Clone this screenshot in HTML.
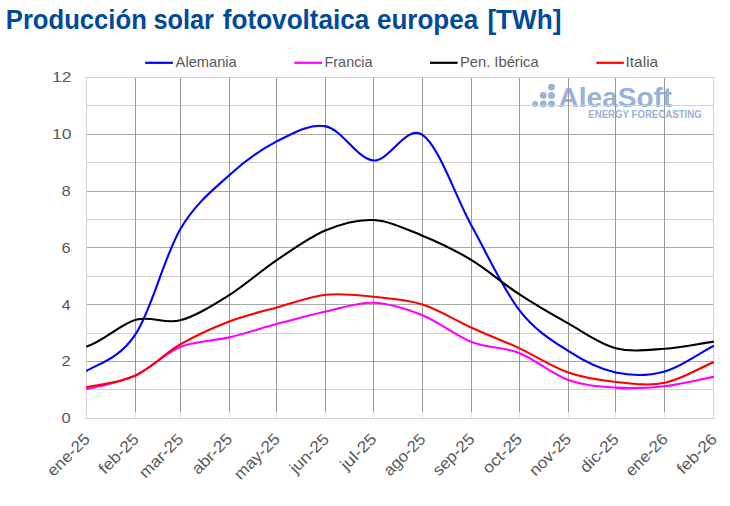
<!DOCTYPE html>
<html><head><meta charset="utf-8"><title>Producción solar fotovoltaica europea</title>
<style>html,body{margin:0;padding:0;background:#fff;}body{width:730px;height:506px;position:relative;overflow:hidden;font-family:"Liberation Sans",sans-serif;}</style></head>
<body>
<svg width="730" height="506" viewBox="0 0 730 506" style="position:absolute;left:0;top:0">
<rect width="730" height="506" fill="#fff"/>
<g fill="#98b2d8">
<circle cx="535.2" cy="103.9" r="3.0"/>
<circle cx="543.3" cy="103.9" r="3.4"/>
<circle cx="551.5" cy="103.9" r="3.4"/>
<circle cx="543.3" cy="95.4" r="3.4"/>
<circle cx="551.5" cy="95.4" r="3.4"/>
<circle cx="551.5" cy="87.1" r="3.4"/>
<text x="558.6" y="107.1" font-family="Liberation Sans, sans-serif" font-weight="bold" font-size="28.4" textLength="113.6" lengthAdjust="spacingAndGlyphs">AleaSoft</text>
<text x="588.3" y="117.8" font-family="Liberation Sans, sans-serif" font-weight="bold" font-size="10" textLength="113.4" lengthAdjust="spacingAndGlyphs">ENERGY FORECASTING</text>
</g>
<line x1="86.5" x2="713.5" y1="389.5" y2="389.5" stroke="#d2d2d2" stroke-width="1"/>
<line x1="86.5" x2="713.5" y1="333.5" y2="333.5" stroke="#d2d2d2" stroke-width="1"/>
<line x1="86.5" x2="713.5" y1="276.5" y2="276.5" stroke="#d2d2d2" stroke-width="1"/>
<line x1="86.5" x2="713.5" y1="219.5" y2="219.5" stroke="#d2d2d2" stroke-width="1"/>
<line x1="86.5" x2="713.5" y1="162.5" y2="162.5" stroke="#d2d2d2" stroke-width="1"/>
<line x1="86.5" x2="713.5" y1="105.5" y2="105.5" stroke="#d2d2d2" stroke-width="1"/>
<line x1="86.5" x2="713.5" y1="361.5" y2="361.5" stroke="#a9a9a9" stroke-width="1"/>
<line x1="86.5" x2="713.5" y1="304.5" y2="304.5" stroke="#a9a9a9" stroke-width="1"/>
<line x1="86.5" x2="713.5" y1="247.5" y2="247.5" stroke="#a9a9a9" stroke-width="1"/>
<line x1="86.5" x2="713.5" y1="191.5" y2="191.5" stroke="#a9a9a9" stroke-width="1"/>
<line x1="86.5" x2="713.5" y1="134.5" y2="134.5" stroke="#a9a9a9" stroke-width="1"/>
<line x1="135.50" x2="135.50" y1="77.5" y2="412" stroke="#9a9a9a" stroke-width="1"/>
<line x1="135.50" x2="135.50" y1="412" y2="418.5" stroke="#e6e6e6" stroke-width="1"/>
<line x1="180.50" x2="180.50" y1="77.5" y2="412" stroke="#9a9a9a" stroke-width="1"/>
<line x1="180.50" x2="180.50" y1="412" y2="418.5" stroke="#e6e6e6" stroke-width="1"/>
<line x1="229.50" x2="229.50" y1="77.5" y2="412" stroke="#9a9a9a" stroke-width="1"/>
<line x1="229.50" x2="229.50" y1="412" y2="418.5" stroke="#e6e6e6" stroke-width="1"/>
<line x1="276.50" x2="276.50" y1="77.5" y2="412" stroke="#9a9a9a" stroke-width="1"/>
<line x1="276.50" x2="276.50" y1="412" y2="418.5" stroke="#e6e6e6" stroke-width="1"/>
<line x1="325.50" x2="325.50" y1="77.5" y2="412" stroke="#9a9a9a" stroke-width="1"/>
<line x1="325.50" x2="325.50" y1="412" y2="418.5" stroke="#e6e6e6" stroke-width="1"/>
<line x1="373.50" x2="373.50" y1="77.5" y2="412" stroke="#9a9a9a" stroke-width="1"/>
<line x1="373.50" x2="373.50" y1="412" y2="418.5" stroke="#e6e6e6" stroke-width="1"/>
<line x1="422.50" x2="422.50" y1="77.5" y2="412" stroke="#9a9a9a" stroke-width="1"/>
<line x1="422.50" x2="422.50" y1="412" y2="418.5" stroke="#e6e6e6" stroke-width="1"/>
<line x1="471.50" x2="471.50" y1="77.5" y2="412" stroke="#9a9a9a" stroke-width="1"/>
<line x1="471.50" x2="471.50" y1="412" y2="418.5" stroke="#e6e6e6" stroke-width="1"/>
<line x1="519.50" x2="519.50" y1="77.5" y2="412" stroke="#9a9a9a" stroke-width="1"/>
<line x1="519.50" x2="519.50" y1="412" y2="418.5" stroke="#e6e6e6" stroke-width="1"/>
<line x1="568.50" x2="568.50" y1="77.5" y2="412" stroke="#9a9a9a" stroke-width="1"/>
<line x1="568.50" x2="568.50" y1="412" y2="418.5" stroke="#e6e6e6" stroke-width="1"/>
<line x1="615.50" x2="615.50" y1="77.5" y2="412" stroke="#9a9a9a" stroke-width="1"/>
<line x1="615.50" x2="615.50" y1="412" y2="418.5" stroke="#e6e6e6" stroke-width="1"/>
<line x1="664.50" x2="664.50" y1="77.5" y2="412" stroke="#9a9a9a" stroke-width="1"/>
<line x1="664.50" x2="664.50" y1="412" y2="418.5" stroke="#e6e6e6" stroke-width="1"/>
<rect x="86.5" y="77.5" width="627.0" height="341.0" fill="none" stroke="#d3d3d3" stroke-width="1"/>
<clipPath id="cp"><rect x="86.2" y="77.5" width="627.8" height="341.0"/></clipPath>
<path d="M37.60,387.06 C53.97,381.62 70.33,379.61 86.70,370.73 C103.07,361.86 120.22,357.36 135.80,333.81 C151.37,310.26 164.57,255.88 180.14,229.44 C195.72,203.00 213.14,189.87 229.24,175.20 C245.34,160.52 260.65,149.54 276.76,141.40 C292.86,133.26 309.75,123.18 325.85,126.35 C341.96,129.52 357.27,159.01 373.37,160.43 C389.47,161.85 406.10,123.98 422.47,134.87 C438.83,145.75 455.46,196.59 471.56,225.75 C487.67,254.91 502.98,288.94 519.08,309.81 C535.18,330.69 552.07,340.53 568.18,350.99 C584.28,361.45 599.59,369.17 615.69,372.58 C631.79,375.98 648.42,375.94 664.79,371.44 C681.15,366.94 697.52,354.21 713.88,345.60" clip-path="url(#cp)" fill="none" stroke="#0000ff" stroke-width="2.1" stroke-linejoin="round" stroke-linecap="butt"/>
<path d="M37.60,394.73 C53.97,392.83 70.33,392.31 86.70,389.05 C103.07,385.78 120.22,382.14 135.80,375.13 C151.37,368.13 164.57,353.31 180.14,347.02 C195.72,340.72 213.14,341.19 229.24,337.36 C245.34,333.53 260.65,328.32 276.76,324.01 C292.86,319.70 309.75,315.07 325.85,311.52 C341.96,307.97 357.27,302.10 373.37,302.71 C389.47,303.33 406.10,308.68 422.47,315.21 C438.83,321.74 455.46,335.61 471.56,341.90 C487.67,348.20 502.98,346.64 519.08,352.98 C535.18,359.32 552.07,374.19 568.18,379.96 C584.28,385.73 599.59,386.59 615.69,387.63 C631.79,388.67 648.42,388.01 664.79,386.21 C681.15,384.41 697.52,379.96 713.88,376.84" clip-path="url(#cp)" fill="none" stroke="#ff00ff" stroke-width="2.1" stroke-linejoin="round" stroke-linecap="butt"/>
<path d="M37.60,348.72 C53.97,347.96 70.33,351.28 86.70,346.45 C103.07,341.62 120.22,324.11 135.80,319.75 C151.37,315.40 164.57,324.44 180.14,320.32 C195.72,316.20 213.14,305.08 229.24,295.04 C245.34,285.01 260.65,270.90 276.76,260.11 C292.86,249.32 309.75,236.97 325.85,230.29 C341.96,223.62 357.27,219.17 373.37,220.07 C389.47,220.97 406.10,229.01 422.47,235.69 C438.83,242.36 455.46,250.36 471.56,260.11 C487.67,269.86 502.98,283.64 519.08,294.19 C535.18,304.75 552.07,314.45 568.18,323.44 C584.28,332.44 599.59,343.94 615.69,348.15 C631.79,352.36 648.42,349.81 664.79,348.72 C681.15,347.63 697.52,343.99 713.88,341.62" clip-path="url(#cp)" fill="none" stroke="#000000" stroke-width="2.1" stroke-linejoin="round" stroke-linecap="butt"/>
<path d="M37.60,393.59 C53.97,391.41 70.33,390.09 86.70,387.06 C103.07,384.03 120.22,382.52 135.80,375.42 C151.37,368.32 164.57,353.45 180.14,344.46 C195.72,335.47 213.14,327.61 229.24,321.46 C245.34,315.30 260.65,311.99 276.76,307.54 C292.86,303.09 309.75,296.56 325.85,294.76 C341.96,292.96 357.27,295.14 373.37,296.75 C389.47,298.36 406.10,299.26 422.47,304.42 C438.83,309.58 455.46,320.41 471.56,327.70 C487.67,334.99 502.98,340.67 519.08,348.15 C535.18,355.63 552.07,366.94 568.18,372.58 C584.28,378.21 599.59,380.24 615.69,381.95 C631.79,383.65 648.42,386.11 664.79,382.80 C681.15,379.49 697.52,368.98 713.88,362.07" clip-path="url(#cp)" fill="none" stroke="#ff0000" stroke-width="2.1" stroke-linejoin="round" stroke-linecap="butt"/>
<text x="70.7" y="423.10" text-anchor="end" font-family="Liberation Sans, sans-serif" font-size="15.5" fill="#595959" textLength="9.2" lengthAdjust="spacingAndGlyphs">0</text>
<text x="70.7" y="366.30" text-anchor="end" font-family="Liberation Sans, sans-serif" font-size="15.5" fill="#595959" textLength="9.2" lengthAdjust="spacingAndGlyphs">2</text>
<text x="70.7" y="309.50" text-anchor="end" font-family="Liberation Sans, sans-serif" font-size="15.5" fill="#595959" textLength="9.2" lengthAdjust="spacingAndGlyphs">4</text>
<text x="70.7" y="252.70" text-anchor="end" font-family="Liberation Sans, sans-serif" font-size="15.5" fill="#595959" textLength="9.2" lengthAdjust="spacingAndGlyphs">6</text>
<text x="70.7" y="195.90" text-anchor="end" font-family="Liberation Sans, sans-serif" font-size="15.5" fill="#595959" textLength="9.2" lengthAdjust="spacingAndGlyphs">8</text>
<text x="71.5" y="139.10" text-anchor="end" font-family="Liberation Sans, sans-serif" font-size="15.5" fill="#595959" textLength="19.5" lengthAdjust="spacingAndGlyphs">10</text>
<text x="71.5" y="82.30" text-anchor="end" font-family="Liberation Sans, sans-serif" font-size="15.5" fill="#595959" textLength="19.5" lengthAdjust="spacingAndGlyphs">12</text>
<text transform="translate(90.80,440.1) rotate(-45)" text-anchor="end" font-family="Liberation Sans, sans-serif" font-size="16" fill="#595959" textLength="52.6" lengthAdjust="spacingAndGlyphs">ene-25</text>
<text transform="translate(139.90,440.1) rotate(-45)" text-anchor="end" font-family="Liberation Sans, sans-serif" font-size="16" fill="#595959" textLength="49.2" lengthAdjust="spacingAndGlyphs">feb-25</text>
<text transform="translate(184.24,440.1) rotate(-45)" text-anchor="end" font-family="Liberation Sans, sans-serif" font-size="16" fill="#595959" textLength="54.9" lengthAdjust="spacingAndGlyphs">mar-25</text>
<text transform="translate(233.34,440.1) rotate(-45)" text-anchor="end" font-family="Liberation Sans, sans-serif" font-size="16" fill="#595959" textLength="49.6" lengthAdjust="spacingAndGlyphs">abr-25</text>
<text transform="translate(280.86,440.1) rotate(-45)" text-anchor="end" font-family="Liberation Sans, sans-serif" font-size="16" fill="#595959" textLength="57.0" lengthAdjust="spacingAndGlyphs">may-25</text>
<text transform="translate(329.95,440.1) rotate(-45)" text-anchor="end" font-family="Liberation Sans, sans-serif" font-size="16" fill="#595959" textLength="48.2" lengthAdjust="spacingAndGlyphs">jun-25</text>
<text transform="translate(377.47,440.1) rotate(-45)" text-anchor="end" font-family="Liberation Sans, sans-serif" font-size="16" fill="#595959" textLength="43.6" lengthAdjust="spacingAndGlyphs">jul-25</text>
<text transform="translate(426.57,440.1) rotate(-45)" text-anchor="end" font-family="Liberation Sans, sans-serif" font-size="16" fill="#595959" textLength="51.8" lengthAdjust="spacingAndGlyphs">ago-25</text>
<text transform="translate(475.66,440.1) rotate(-45)" text-anchor="end" font-family="Liberation Sans, sans-serif" font-size="16" fill="#595959" textLength="52.0" lengthAdjust="spacingAndGlyphs">sep-25</text>
<text transform="translate(523.18,440.1) rotate(-45)" text-anchor="end" font-family="Liberation Sans, sans-serif" font-size="16" fill="#595959" textLength="48.7" lengthAdjust="spacingAndGlyphs">oct-25</text>
<text transform="translate(572.28,440.1) rotate(-45)" text-anchor="end" font-family="Liberation Sans, sans-serif" font-size="16" fill="#595959" textLength="52.0" lengthAdjust="spacingAndGlyphs">nov-25</text>
<text transform="translate(619.79,440.1) rotate(-45)" text-anchor="end" font-family="Liberation Sans, sans-serif" font-size="16" fill="#595959" textLength="47.5" lengthAdjust="spacingAndGlyphs">dic-25</text>
<text transform="translate(668.89,440.1) rotate(-45)" text-anchor="end" font-family="Liberation Sans, sans-serif" font-size="16" fill="#595959" textLength="52.6" lengthAdjust="spacingAndGlyphs">ene-26</text>
<text transform="translate(717.98,440.1) rotate(-45)" text-anchor="end" font-family="Liberation Sans, sans-serif" font-size="16" fill="#595959" textLength="49.2" lengthAdjust="spacingAndGlyphs">feb-26</text>
<line x1="145.2" x2="172.9" y1="62.8" y2="62.8" stroke="#0000ff" stroke-width="2.2"/>
<text x="175.6" y="67.1" font-family="Liberation Sans, sans-serif" font-size="15" fill="#595959" textLength="61.2" lengthAdjust="spacingAndGlyphs">Alemania</text>
<line x1="294.2" x2="322.0" y1="62.8" y2="62.8" stroke="#ff00ff" stroke-width="2.2"/>
<text x="324.5" y="67.1" font-family="Liberation Sans, sans-serif" font-size="15" fill="#595959" textLength="48.1" lengthAdjust="spacingAndGlyphs">Francia</text>
<line x1="430" x2="457.6" y1="62.8" y2="62.8" stroke="#000" stroke-width="2.2"/>
<text x="459.9" y="67.1" font-family="Liberation Sans, sans-serif" font-size="15" fill="#595959" textLength="78.7" lengthAdjust="spacingAndGlyphs">Pen. Ibérica</text>
<line x1="596.3" x2="623.9" y1="62.8" y2="62.8" stroke="#ff0000" stroke-width="2.2"/>
<text x="625.5" y="67.1" font-family="Liberation Sans, sans-serif" font-size="15" fill="#595959" textLength="32.7" lengthAdjust="spacingAndGlyphs">Italia</text>
<text x="5.8" y="28.6" font-family="Liberation Sans, sans-serif" font-weight="bold" font-size="26.8" fill="#004a9c" textLength="141.0" lengthAdjust="spacingAndGlyphs">Producción</text>
<text x="153.4" y="28.6" font-family="Liberation Sans, sans-serif" font-weight="bold" font-size="26.8" fill="#004a9c" textLength="60.6" lengthAdjust="spacingAndGlyphs">solar</text>
<text x="222.8" y="28.6" font-family="Liberation Sans, sans-serif" font-weight="bold" font-size="26.8" fill="#004a9c" textLength="146.6" lengthAdjust="spacingAndGlyphs">fotovoltaica</text>
<text x="377.0" y="28.6" font-family="Liberation Sans, sans-serif" font-weight="bold" font-size="26.8" fill="#004a9c" textLength="101.2" lengthAdjust="spacingAndGlyphs">europea</text>
<text x="487.4" y="28.6" font-family="Liberation Sans, sans-serif" font-weight="bold" font-size="26.8" fill="#004a9c" textLength="74.2" lengthAdjust="spacingAndGlyphs">[TWh]</text>
</svg>
</body></html>
